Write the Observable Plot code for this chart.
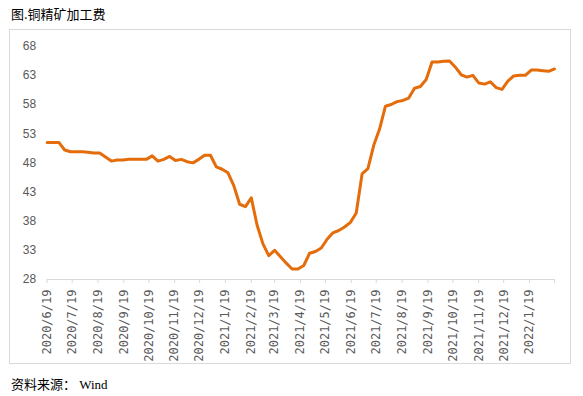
<!DOCTYPE html>
<html>
<head>
<meta charset="utf-8">
<script src="https://cdn.jsdelivr.net/npm/d3@7"></script>
<script src="https://cdn.jsdelivr.net/npm/@observablehq/plot@0.6"></script>
<style>
  html, body { margin: 0; padding: 0; background: #fff; }
  body { width: 583px; height: 396px; position: relative; overflow: hidden; }
  #title { position: absolute; left: 11px; top: 4px; font: 13px "Noto Sans CJK SC", sans-serif; color: #000; }
  #box { position: absolute; left: 9px; top: 29px; width: 560px; height: 333px; border: 1px solid #d9d9d9; }
  #source { position: absolute; left: 11px; top: 374px; font: 13px "Liberation Serif", "Noto Sans CJK SC", serif; color: #000; }
  #box svg { display: block; }
</style>
</head>
<body>
<div id="title">图.铜精矿加工费</div>
<div id="box"></div>
<div id="source">资料来源： Wind</div>
<script>
const dates = [
  "2020-06-19","2020-06-26","2020-07-03","2020-07-10","2020-07-17","2020-07-24","2020-07-31",
  "2020-08-07","2020-08-14","2020-08-21","2020-08-28","2020-09-04","2020-09-11","2020-09-18",
  "2020-09-25","2020-10-02","2020-10-09","2020-10-16","2020-10-23","2020-10-30","2020-11-06",
  "2020-11-13","2020-11-20","2020-11-27","2020-12-04","2020-12-11","2020-12-18","2020-12-25",
  "2021-01-01","2021-01-08","2021-01-15","2021-01-22","2021-01-29","2021-02-05","2021-02-12",
  "2021-02-19","2021-02-26","2021-03-05","2021-03-12","2021-03-19","2021-03-26","2021-04-02",
  "2021-04-09","2021-04-16","2021-04-23","2021-04-30","2021-05-07","2021-05-14","2021-05-21",
  "2021-05-28","2021-06-04","2021-06-11","2021-06-18","2021-06-25","2021-07-02","2021-07-09",
  "2021-07-16","2021-07-23","2021-07-30","2021-08-06","2021-08-13","2021-08-20","2021-08-27",
  "2021-09-03","2021-09-10","2021-09-17","2021-09-24","2021-10-01","2021-10-08","2021-10-15",
  "2021-10-22","2021-10-29","2021-11-05","2021-11-12","2021-11-19","2021-11-26","2021-12-03",
  "2021-12-10","2021-12-17","2021-12-24","2021-12-31","2022-01-07","2022-01-14","2022-01-21",
  "2022-01-28","2022-02-04","2022-02-11","2022-02-18"
];
const values = [
  51.5,51.5,51.5,50.2,49.9,49.9,49.9,49.8,49.7,49.7,
  49.0,48.3,48.5,48.5,48.6,48.6,48.6,48.6,49.2,48.3,
  48.6,49.1,48.4,48.6,48.2,48.0,48.6,49.3,49.3,47.3,
  46.9,46.3,44.1,40.9,40.5,42.0,37.3,34.1,32.1,33.0,
  31.9,30.8,29.8,29.8,30.4,32.5,32.8,33.4,34.9,36.0,
  36.4,37.0,37.8,39.4,46.1,47.0,51.0,53.8,57.7,58.0,
  58.5,58.7,59.1,60.8,61.1,62.3,65.3,65.3,65.4,65.45,
  64.4,63.1,62.7,63.0,61.7,61.5,61.9,60.9,60.6,62.0,
  62.9,63.0,63.0,63.9,63.9,63.8,63.7,64.1
];
const xTickDates = [
  "2020-06-19","2020-07-19","2020-08-19","2020-09-19","2020-10-19","2020-11-19","2020-12-19",
  "2021-01-19","2021-02-19","2021-03-19","2021-04-19","2021-05-19","2021-06-19","2021-07-19",
  "2021-08-19","2021-09-19","2021-10-19","2021-11-19","2021-12-19","2022-01-19"
];
const yTicks = [28, 33, 38, 43, 48, 53, 58, 63, 68];

const data = dates.map((d, i) => ({date: new Date(d + "T00:00:00Z"), value: values[i]}));
const xStart = new Date(dates[0] + "T00:00:00Z");
const xEnd = new Date(dates[dates.length - 1] + "T00:00:00Z");
const tickDates = xTickDates.map(d => new Date(d + "T00:00:00Z"));
const fmt = d => `${d.getUTCFullYear()}/${d.getUTCMonth() + 1}/${d.getUTCDate()}`;

const chart = Plot.plot({
  width: 560,
  height: 333,
  marginLeft: 36.7,
  marginRight: 16,
  marginTop: 15.7,
  marginBottom: 84,
  style: {background: "white", fontFamily: "Liberation Sans, sans-serif"},
  x: {type: "utc", domain: [xStart, xEnd]},
  y: {domain: [28, 68]},
  marks: [
    Plot.axisY({ticks: yTicks, tickSize: 0, tickPadding: 11, fontSize: 12, fill: "#595959", label: null}),
    Plot.ruleY([28], {stroke: "#d9d9d9", strokeWidth: 1}),
    Plot.axisX({ticks: [...tickDates, xEnd], tickFormat: d => (+d === +xEnd ? "" : fmt(d)), tickRotate: -90,
      tickSize: 4, tickPadding: 6, stroke: "#d9d9d9", fill: "#595959", fontSize: 12,
      fontFamily: "DejaVu Sans Mono, monospace", label: null}),
    Plot.line(data, {x: "date", y: "value", stroke: "#e46c0a", strokeWidth: 3, strokeLinejoin: "round", strokeLinecap: "round"})
  ]
});
document.getElementById("box").appendChild(chart);
</script>
</body>
</html>
